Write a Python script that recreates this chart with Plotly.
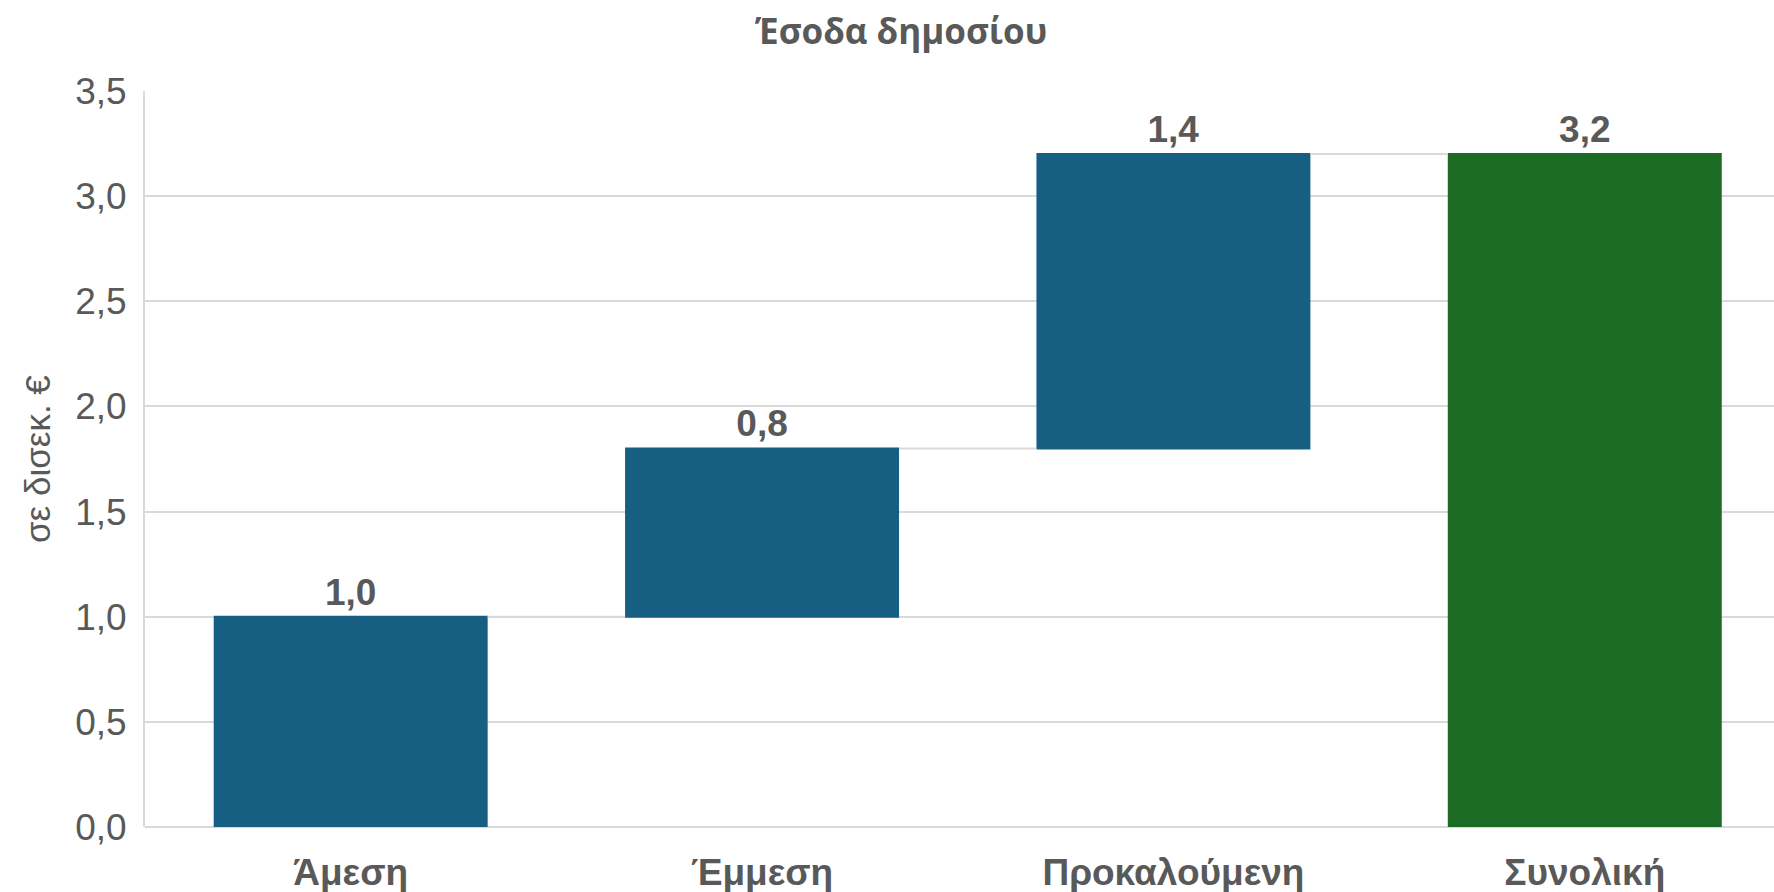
import plotly.graph_objects as go

# Revenue components (billion €) and the resulting total
categories = ["Άμεση", "Έμμεση", "Προκαλούμενη", "Συνολική"]
values = [1.0, 0.8, 1.4, 3.2]
measures = ["relative", "relative", "relative", "total"]
y_ticks = [0.0, 0.5, 1.0, 1.5, 2.0, 2.5, 3.0, 3.5]

BLUE = "#175F82"
GREEN = "#1B6B24"
TEXT = "#595959"
GRID = "#D9D9D9"

labels = [f"{v:.1f}".replace(".", ",") for v in values]

fig = go.Figure(
    go.Waterfall(
        x=categories,
        y=values,
        measure=measures,
        text=labels,
        textposition="outside",
        textfont=dict(family="Liberation Sans", size=37, color=TEXT, weight="bold"),
        cliponaxis=False,
        increasing=dict(marker=dict(color=BLUE, line=dict(width=0))),
        decreasing=dict(marker=dict(color=BLUE, line=dict(width=0))),
        totals=dict(marker=dict(color=GREEN, line=dict(width=0))),
        connector=dict(line=dict(color=GRID, width=2, dash="solid")),
        hoverinfo="skip",
    )
)

fig.update_layout(
    width=1774,
    height=892,
    margin=dict(l=145, r=0, t=91, b=65),
    paper_bgcolor="white",
    plot_bgcolor="white",
    separators=",.",
    showlegend=False,
    waterfallgap=0.334,
    title=dict(
        text="<b>Έσοδα δημοσίου</b>",
        font=dict(family="Open Sans", size=35, color=TEXT),
        x=0.508,
        xref="container",
        xanchor="center",
        y=1 - 32 / 892,
        yref="container",
        yanchor="middle",
    ),
    xaxis=dict(
        range=[-0.5, 3.46],
        showgrid=False,
        showline=False,
        ticks="",
        tickfont=dict(family="Liberation Sans", size=37, color=TEXT, weight="bold"),
        ticklabelstandoff=20,
    ),
    yaxis=dict(
        range=[0, 3.5],
        tickvals=y_ticks,
        tickformat=".1f",
        showgrid=True,
        gridcolor=GRID,
        gridwidth=2,
        zeroline=True,
        zerolinecolor=GRID,
        zerolinewidth=2,
        showline=True,
        linecolor=GRID,
        linewidth=2,
        ticks="",
        ticklabelstandoff=9,
        tickfont=dict(family="Liberation Sans", size=37, color=TEXT),
    ),
    annotations=[
        dict(
            text="σε δισεκ. €",
            textangle=-90,
            xref="paper",
            yref="paper",
            x=(37 - 145) / 1629,
            y=0.5,
            xanchor="center",
            yanchor="middle",
            showarrow=False,
            font=dict(family="Liberation Sans", size=35, color=TEXT),
        )
    ],
)

fig.write_html("out.html")
